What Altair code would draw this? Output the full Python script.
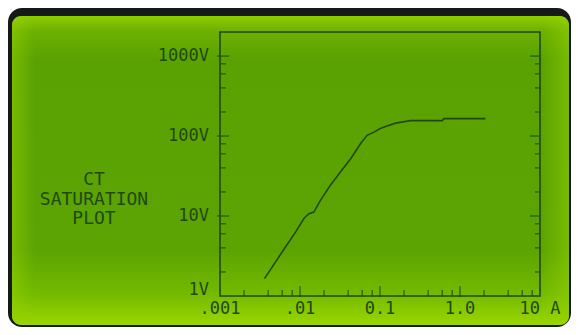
import altair as alt
import pandas as pd

# ---- data ----
amps = [0.0036, 0.0063, 0.0088, 0.0112, 0.0129, 0.0149, 0.018, 0.024, 0.032,
        0.043, 0.057, 0.069, 0.084, 0.101, 0.129, 0.156, 0.24, 0.60, 0.63, 2.08]
volts = [1.65, 3.84, 6.3, 9.3, 10.7, 11.2, 15.7, 24.2, 35.5,
         52, 80, 102, 112, 124, 136, 145, 156, 156, 165, 165]

x_major = [0.001, 0.01, 0.1, 1, 10]
x_labels = [".001", ".01", "0.1", "1.0", "10 A"]
y_major = [1, 10, 100, 1000]
y_labels = ["1V", "10V", "100V", "1000V"]
minor_mult = [2, 4, 6, 8]
x_domain = [0.001, 10]
y_domain = [1, 2000]
title_lines = ["CT", "SATURATION", "PLOT"]

x_minor = [m * d for d in x_major[:-1] for m in minor_mult]
y_minor = [m * d for d in y_major[:-1] for m in minor_mult]

INK = "#1f4a0c"
FONT = "DejaVu Sans Mono"
W, H = 320, 264

xs = alt.Scale(type="log", domain=x_domain, nice=False)
ys = alt.Scale(type="log", domain=y_domain, nice=False)

one = pd.DataFrame({"k": [0]})

# ---- decoration: bezel and LCD glass ----
bezel = alt.Chart(one).mark_rect(color="#16191a", cornerRadius=14).encode(
    x=alt.value(-212), x2=alt.value(351), y=alt.value(-24), y2=alt.value(295))

lcd = alt.Chart(one).mark_rect(
    cornerRadius=9,
    color=alt.Gradient(
        gradient="linear", x1=0, x2=0, y1=0, y2=1,
        stops=[alt.GradientStop(offset=0, color="#8ccc00"),
               alt.GradientStop(offset=0.05, color="#6cb000"),
               alt.GradientStop(offset=0.14, color="#5aa202"),
               alt.GradientStop(offset=0.76, color="#5ca402"),
               alt.GradientStop(offset=0.9, color="#74ba00"),
               alt.GradientStop(offset=1, color="#9ad600")])).encode(
    x=alt.value(-208), x2=alt.value(349), y=alt.value(-16), y2=alt.value(293))

lcd_side = alt.Chart(one).mark_rect(
    cornerRadius=9,
    color=alt.Gradient(
        gradient="linear", x1=0, x2=1, y1=0, y2=0,
        stops=[alt.GradientStop(offset=0, color="rgba(150,210,0,0.5)"),
               alt.GradientStop(offset=0.04, color="rgba(150,210,0,0)"),
               alt.GradientStop(offset=0.95, color="rgba(150,210,0,0)"),
               alt.GradientStop(offset=1, color="rgba(150,210,0,0.5)")])).encode(
    x=alt.value(-208), x2=alt.value(349), y=alt.value(-16), y2=alt.value(293))

# ---- plot frame ----
frame = alt.Chart(pd.DataFrame({"x0": [x_domain[0]], "x1": [x_domain[1]],
                                "y0": [y_domain[0]], "y1": [y_domain[1]]})).mark_rect(
    filled=False, stroke=INK, strokeWidth=1.6).encode(
    x=alt.X("x0:Q", scale=xs, axis=None), x2="x1:Q",
    y=alt.Y("y0:Q", scale=ys, axis=None), y2="y1:Q")


def yticks(xval, vals, size, off):
    df = pd.DataFrame({"x": [xval] * len(vals), "y": vals})
    return alt.Chart(df).mark_tick(orient="horizontal", size=size, thickness=1.5,
                                   xOffset=off, color=INK).encode(
        x=alt.X("x:Q", scale=xs, axis=None), y=alt.Y("y:Q", scale=ys, axis=None))


def xticks(vals, size, off):
    df = pd.DataFrame({"x": vals, "y": [y_domain[0]] * len(vals)})
    return alt.Chart(df).mark_tick(orient="vertical", size=size, thickness=1.5,
                                   yOffset=off, color=INK).encode(
        x=alt.X("x:Q", scale=xs, axis=None), y=alt.Y("y:Q", scale=ys, axis=None))


ticks = [
    yticks(x_domain[0], y_major[1:], 12, 3),
    yticks(x_domain[0], y_minor, 6, 3),
    yticks(x_domain[1], y_major[1:], 10, -5),
    yticks(x_domain[1], y_minor, 5, -2.5),
    xticks(x_major[1:-1], 11, -4.5),
    xticks(x_minor, 6, -3),
]

# ---- tick labels as text marks placed through the scales ----
xlab = alt.Chart(pd.DataFrame({"x": x_major, "t": x_labels})).mark_text(
    align="center", baseline="top", font=FONT, fontSize=17, color=INK).encode(
    x=alt.X("x:Q", scale=xs, axis=None), y=alt.value(H + 5), text="t:N")


def ylabels(vals, texts, dy):
    return alt.Chart(pd.DataFrame({"y": vals, "t": texts})).mark_text(
        align="right", baseline="middle", font=FONT, fontSize=17, color=INK, dy=dy).encode(
        x=alt.value(-11), y=alt.Y("y:Q", scale=ys, axis=None), text="t:N")


ylab_low = ylabels(y_major[:1], y_labels[:1], -6)
ylab = ylabels(y_major[1:], y_labels[1:], 0)

# ---- the curve ----
curve = alt.Chart(pd.DataFrame({"a": amps, "v": volts})).mark_line(
    color=INK, strokeWidth=1.6).encode(
    x=alt.X("a:Q", scale=xs, axis=None),
    y=alt.Y("v:Q", scale=ys, axis=None),
)

title = alt.Chart(pd.DataFrame({"t": ["\n".join(title_lines)]})).mark_text(
    align="center", baseline="middle", lineBreak="\n", lineHeight=19.5,
    font=FONT, fontSize=18, color=INK).encode(
    x=alt.value(-126), y=alt.value(148), text="t:N")

chart = alt.layer(bezel, lcd, lcd_side, curve, frame, *ticks,
                  xlab, ylab_low, ylab, title).properties(
    width=W, height=H, autosize="none",
    padding={"left": 212, "top": 24, "right": 31, "bottom": 31},
    background="white",
).configure_view(stroke="transparent")

chart.save("out.html", embed_options={"renderer": "svg", "actions": False})
